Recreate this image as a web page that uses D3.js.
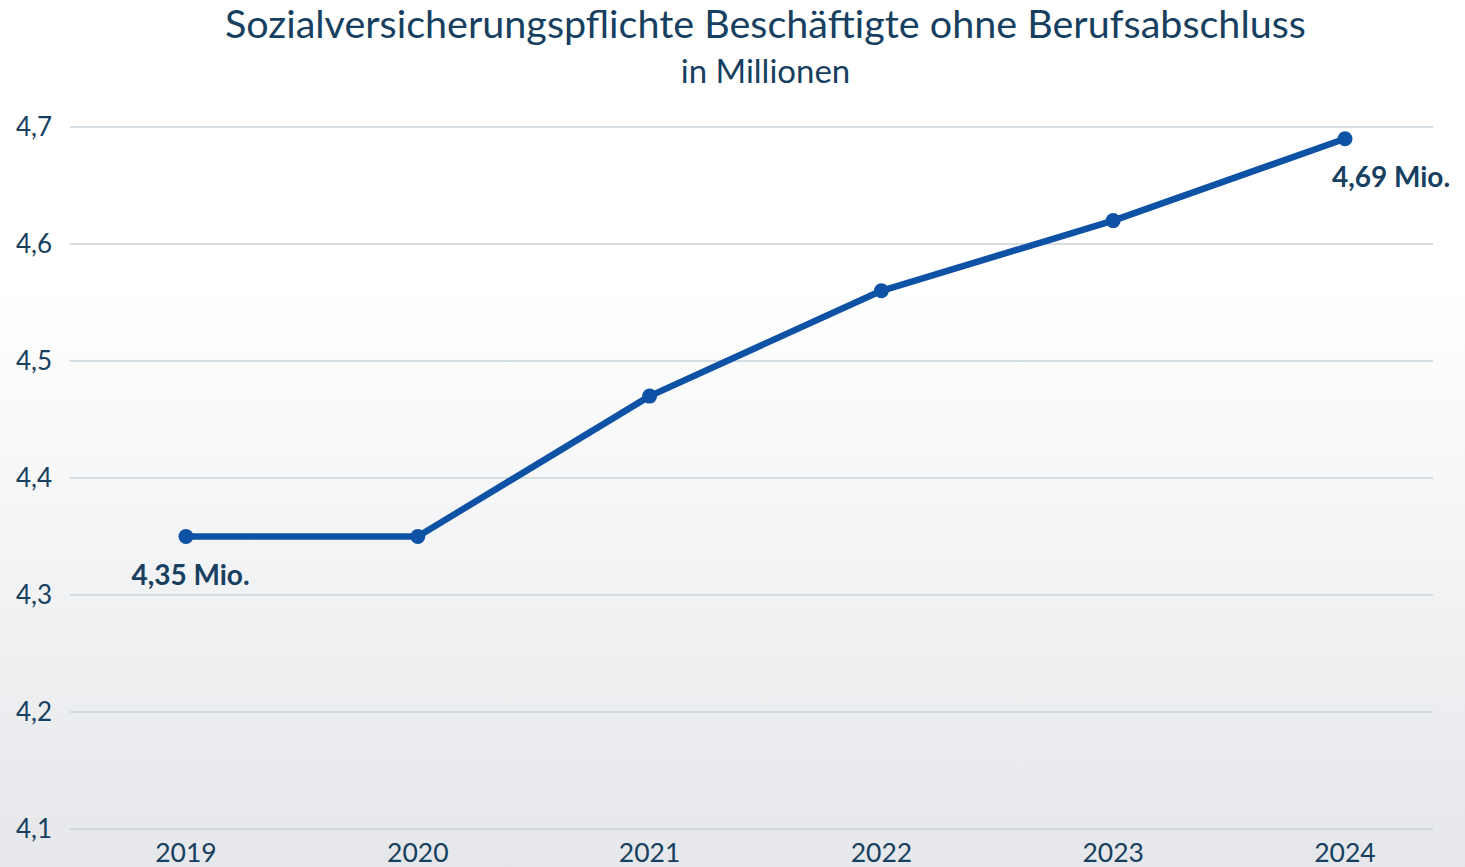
<!DOCTYPE html>
<html><head><meta charset="utf-8">
<script src="https://cdn.jsdelivr.net/npm/d3@7"></script>
<style>
html,body{margin:0;padding:0;background:#fff;}
svg{display:block;font-family:Lato,"Open Sans",sans-serif;}
</style></head>
<body>
<svg id="chart" width="1465" height="867"></svg>
<script>
const years = ["2019","2020","2021","2022","2023","2024"];
const values = [4.35, 4.35, 4.47, 4.56, 4.62, 4.69];
const yTicks = [4.1, 4.2, 4.3, 4.4, 4.5, 4.6, 4.7];
const labels = [{i:0, text:"4,35 Mio."},{i:5, text:"4,69 Mio."}];
const title = "Sozialversicherungspflichte Beschäftigte ohne Berufsabschluss";
const subtitle = "in Millionen";

const W = 1465, H = 867;
const svg = d3.select("#chart");
const textColor = "#173f5f";
const lineColor = "#0d52a4";

const defs = svg.append("defs");
const grad = defs.append("linearGradient").attr("id","bg").attr("x1",0).attr("y1",0).attr("x2",0).attr("y2",1);
grad.append("stop").attr("offset","0%").attr("stop-color","#ffffff");
grad.append("stop").attr("offset","33%").attr("stop-color","#ffffff");
grad.append("stop").attr("offset","100%").attr("stop-color","#e5e7ea");
svg.append("rect").attr("width",W).attr("height",H).attr("fill","url(#bg)");

const x = d3.scalePoint().domain(years).range([186,1345]);
const y = d3.scaleLinear().domain([4.1,4.7]).range([829,127]);

// gridlines
svg.append("g").selectAll("line").data(yTicks).join("line")
  .attr("x1",70).attr("x2",1433)
  .attr("y1",d=>y(d)).attr("y2",d=>y(d))
  .attr("stroke","#c9d3db").attr("stroke-width",1.5);

// y labels
const fmt = d => d3.format(".1f")(d).replace(".",",");
svg.append("g").selectAll("text").data(yTicks).join("text")
  .attr("x",52).attr("y",d=>y(d)).attr("dy","0.35em")
  .attr("text-anchor","end").attr("fill",textColor)
  .attr("font-size",26).text(fmt);

// x labels
svg.append("g").selectAll("text").data(years).join("text")
  .attr("x",d=>x(d)).attr("y",862)
  .attr("text-anchor","middle").attr("fill",textColor)
  .attr("font-size",26.5).text(d=>d);

// line
const line = d3.line().x((d,i)=>x(years[i])).y(d=>y(d));
svg.append("path").datum(values).attr("d",line)
  .attr("fill","none").attr("stroke",lineColor).attr("stroke-width",6.5)
  .attr("stroke-linejoin","round");
svg.append("g").selectAll("circle").data(values).join("circle")
  .attr("cx",(d,i)=>x(years[i])).attr("cy",d=>y(d)).attr("r",7.5)
  .attr("fill",lineColor);

// value labels
svg.append("g").selectAll("text").data(labels).join("text")
  .attr("x",d=>x(years[d.i]) + (d.i===0 ? 4.5 : 46))
  .attr("y",d=>y(values[d.i]) + 48)
  .attr("text-anchor","middle").attr("fill",textColor)
  .attr("font-size",28).attr("font-weight","bold").text(d=>d.text);

// titles
svg.append("text").attr("x",765.5).attr("y",38).attr("text-anchor","middle")
  .attr("fill",textColor).attr("font-size",39.5).text(title);
svg.append("text").attr("x",765.5).attr("y",83).attr("text-anchor","middle")
  .attr("fill",textColor).attr("font-size",33).text(subtitle);
</script>
</body></html>
